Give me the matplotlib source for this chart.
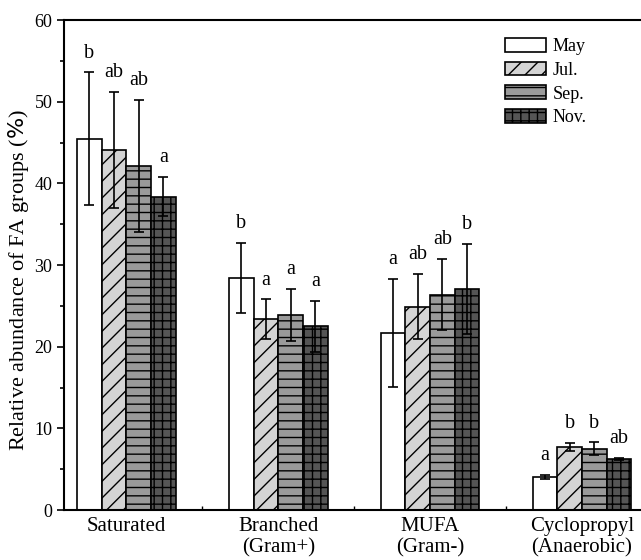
import matplotlib
matplotlib.use("Agg")
import matplotlib.pyplot as plt
import numpy as np
from matplotlib.ticker import MultipleLocator, FixedLocator

plt.rcParams['font.family'] = ['Liberation Serif', 'DejaVu Serif']
plt.rcParams['hatch.linewidth'] = 1.0

categories = ["Saturated", "Branched\n(Gram+)", "MUFA\n(Gram-)", "Cyclopropyl\n(Anaerobic)"]
months = ["May", "Jul.", "Sep.", "Nov."]

may = [45.5, 28.4, 21.7, 4.1]
jul = [44.1, 23.4, 24.9, 7.7]
sep = [42.1, 23.9, 26.4, 7.55]
nov = [38.4, 22.5, 27.1, 6.3]

may_err = [8.1, 4.3, 6.6, 0.25]
jul_err = [7.1, 2.4, 4.0, 0.5]
sep_err = [8.1, 3.2, 4.4, 0.75]
nov_err = [2.4, 3.1, 5.5, 0.1]

may_lbl = ["b", "b", "a", "a"]
jul_lbl = ["ab", "a", "ab", "b"]
sep_lbl = ["ab", "a", "ab", "b"]
nov_lbl = ["a", "a", "b", "ab"]

values = [may, jul, sep, nov]
errors = [may_err, jul_err, sep_err, nov_err]
letters = [may_lbl, jul_lbl, sep_lbl, nov_lbl]
facecolors = ["white", "#d4d4d4", "#9a9a9a", "#555555"]
hatches = [None, "//", "--", "++"]

fig = plt.figure(figsize=(6.41, 5.60), dpi=100)
ax = fig.add_axes([0.1, 0.089, 0.898, 0.875])

x = np.arange(len(categories))
w = 0.1625
for i in range(4):
    pos = x + (i - 1.5) * w
    ax.bar(pos, values[i], width=w, color=facecolors[i], edgecolor="black",
           linewidth=1.2, hatch=hatches[i], label=months[i], zorder=2)
    ax.errorbar(pos, values[i], yerr=errors[i], fmt="none", ecolor="black",
                elinewidth=1.2, capsize=3.3, capthick=1.2, zorder=3)
    for xp, v, e, t in zip(pos, values[i], errors[i], letters[i]):
        ax.text(xp, v + e + 1.2, t, ha="center", va="bottom", fontsize=14.5)

ax.set_xlim(-0.41, 3.38)
ax.set_ylim(0, 60)
ax.yaxis.set_major_locator(MultipleLocator(10))
ax.yaxis.set_minor_locator(MultipleLocator(5))
ax.tick_params(axis="y", which="major", direction="out", length=5, width=1.2, labelsize=13)
ax.tick_params(axis="y", which="minor", direction="out", length=3, width=1.2)
ax.set_xticks(x)
ax.set_xticklabels(categories, fontsize=15, linespacing=1.12)
ax.xaxis.set_minor_locator(FixedLocator([0.5, 1.5, 2.5]))
ax.tick_params(axis="x", which="major", length=0, pad=5)
ax.tick_params(axis="x", which="minor", direction="in", length=3, width=1.0)

ax.set_ylabel("Relative abundance of FA groups ($\\it{\\%}$)", fontsize=16)
ax.yaxis.set_label_coords(-0.058, 0.47)
for s in ["left", "bottom", "top"]:
    ax.spines[s].set_linewidth(1.5)
ax.spines["right"].set_visible(False)

leg = ax.legend(loc="upper right", bbox_to_anchor=(0.926, 0.985), frameon=False,
                fontsize=13, handlelength=2.27, handleheight=0.78,
                labelspacing=0.36, handletextpad=0.35, borderaxespad=0.2)

fig.savefig("out.png", dpi=100)
